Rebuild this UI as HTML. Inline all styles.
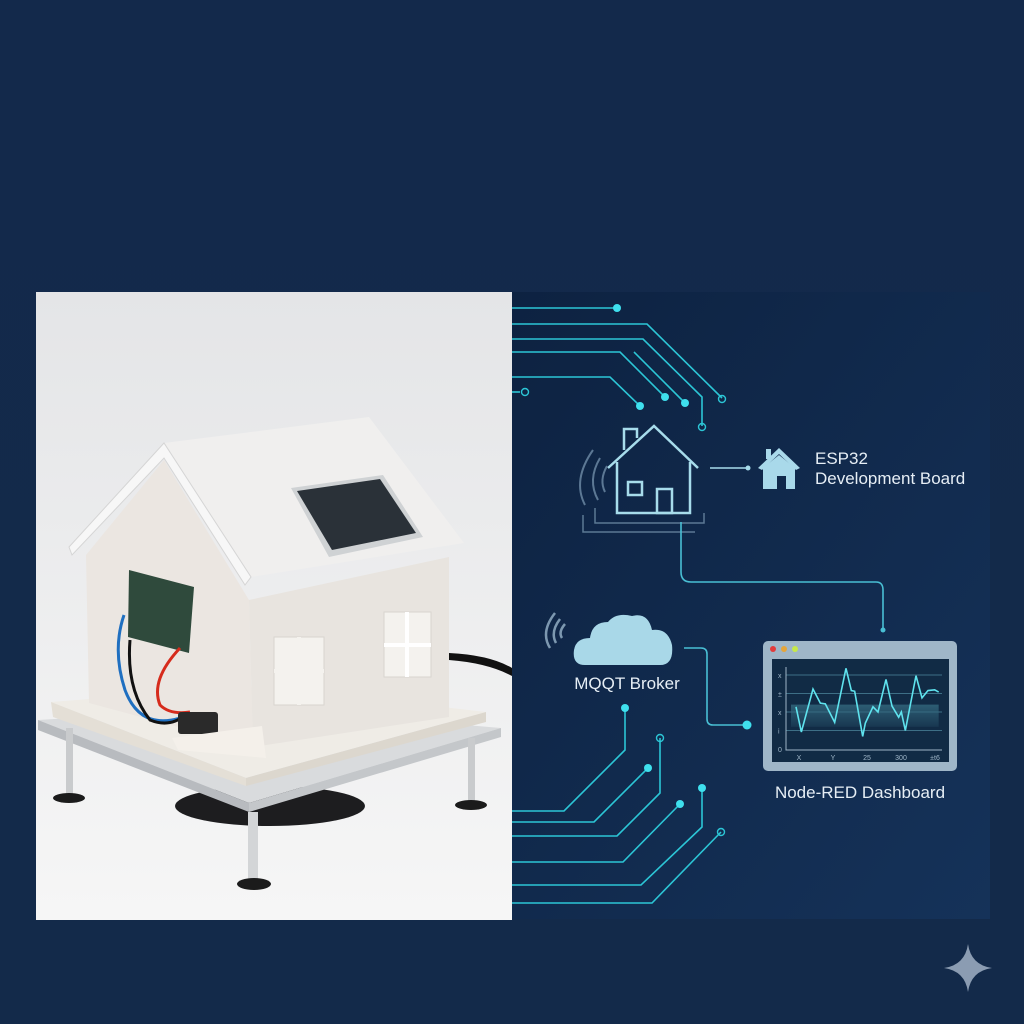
<!DOCTYPE html>
<html><head><meta charset="utf-8"><style>
html,body{margin:0;padding:0;background:#13294a;}
svg{display:block;}
text{font-family:"Liberation Sans","DejaVu Sans",sans-serif;}
</style></head><body>
<svg width="1024" height="1024" viewBox="0 0 1024 1024">
<defs>
<linearGradient id="bg" x1="0" y1="0" x2="0" y2="1"><stop offset="0" stop-color="#13294b"/><stop offset="1" stop-color="#132a4a"/></linearGradient>
<linearGradient id="rp" x1="0" y1="0" x2="1" y2="1"><stop offset="0" stop-color="#0d2241"/><stop offset="1" stop-color="#153259"/></linearGradient>
<linearGradient id="ph" x1="0" y1="0" x2="0" y2="1"><stop offset="0" stop-color="#e4e5e7"/><stop offset="1" stop-color="#f6f6f6"/></linearGradient>
<linearGradient id="area" x1="0" y1="0" x2="0" y2="1"><stop offset="0" stop-color="#3f7f93"/><stop offset="1" stop-color="#1d3f58"/></linearGradient>
</defs>
<rect width="1024" height="1024" fill="url(#bg)"/>
<rect x="512" y="292" width="478" height="627" fill="url(#rp)"/>

<g>
<rect x="36" y="292" width="476" height="628" fill="url(#ph)"/>
<ellipse cx="270" cy="806" rx="95" ry="20" fill="#1d1d1f"/>
<path d="M449 653 Q490 655 512 668 L512 676 Q488 663 449 660Z" fill="#111"/>
<polygon points="38,720 252,707 501,728 249,803" fill="#d9dbdd"/>
<polygon points="38,720 249,803 249,812 38,730" fill="#b8bbbf"/>
<polygon points="249,803 501,728 501,737 249,812" fill="#c4c7ca"/>
<rect x="66" y="728" width="7" height="68" fill="#c9cbcd"/><ellipse cx="69" cy="798" rx="16" ry="5" fill="#1b1b1b"/>
<rect x="468" y="738" width="7" height="66" fill="#c9cbcd"/><ellipse cx="471" cy="805" rx="16" ry="5" fill="#1b1b1b"/>
<rect x="248" y="812" width="10" height="70" fill="#d3d5d7"/><ellipse cx="254" cy="884" rx="17" ry="6" fill="#1b1b1b"/>
<polygon points="51,702 260,686 486,712 246,778" fill="#efece6"/>
<polygon points="51,702 246,778 246,786 53,717" fill="#e4dfd6"/>
<polygon points="246,778 486,712 486,722 246,786" fill="#dcd7ce"/>
<polygon points="164,443 369,417 464,543 251,577" fill="#f0efee"/>
<polygon points="86,555 164,460 249,600 253,747 89,703" fill="#ebe6e1"/>
<polygon points="249,600 449,557 449,717 253,747" fill="#e8e4df"/>
<polygon points="69,547 164,443 251,577 245,585 164,458 72,555" fill="#f7f7f7" stroke="#d5d5d5" stroke-width="1"/>
<polygon points="291,488 383,475 423,537 329,557" fill="#cfd2d4"/>
<polygon points="297,491 380,479 416,533 332,550" fill="#2a3138"/>
<rect x="274" y="637" width="50" height="68" fill="#f4f2ee" stroke="#d8d4cf"/>
<path d="M299 637V705M274 671H324" stroke="#f4f2ee" stroke-width="4"/>
<rect x="384" y="612" width="47" height="65" fill="#f4f2ee" stroke="#d8d4cf"/>
<path d="M407 612V677M384 645H431" stroke="#fff" stroke-width="4"/>
<polygon points="129,570 194,587 189,653 128,637" fill="#2f4a3c"/>
<path d="M124 615 Q112 650 125 690 Q140 730 180 718" stroke="#1f6fc0" stroke-width="3" fill="none"/>
<path d="M130 640 Q126 690 150 720 Q170 728 185 715" stroke="#111" stroke-width="3" fill="none"/>
<path d="M180 648 Q150 680 160 705 Q170 715 190 712" stroke="#d62b1c" stroke-width="3" fill="none"/>
<rect x="178" y="712" width="40" height="22" rx="3" fill="#2a2a2a"/>
<polygon points="172,738 262,726 266,758 178,750" fill="#f4f0ea"/>
</g>

<g stroke="#2cc6d6" stroke-width="1.6" fill="none">
<path d="M512 308H617"/><path d="M512 324H647L722 398"/><path d="M512 339H643L702 397V426"/>
<path d="M512 352H620L665 397"/><path d="M634 352L685 403"/><path d="M512 377H610L640 406"/><path d="M512 392H520"/>
</g>
<g fill="#3fe0ee">
<circle cx="617" cy="308" r="4"/><circle cx="665" cy="397" r="4"/><circle cx="685" cy="403" r="4"/><circle cx="640" cy="406" r="4"/>
</g>
<g fill="none" stroke="#2cc6d6" stroke-width="1.4"><circle cx="722" cy="399" r="3.5"/><circle cx="702" cy="427" r="3.5"/><circle cx="525" cy="392" r="3.5"/></g>

<g stroke="#a7dceb" stroke-width="2.5" fill="none">
<path d="M608 468L654 426L698 468"/><path d="M617 462V513H690V462"/><path d="M624 450V429H637V438"/>
<rect x="628" y="482" width="14" height="13"/><rect x="657" y="489" width="15" height="24"/>
<path d="M593 450Q572 480 585 505M600 458Q587 480 598 500M607 466Q599 480 605 492" stroke="#5c7894" stroke-width="2"/>
<path d="M595 508V523H704V513M583 515V532H695" stroke="#5c7894" stroke-width="1.5"/>
<path d="M710 468H748" stroke="#a7dceb" stroke-width="1.5"/>
</g>
<circle cx="748" cy="468" r="2.5" fill="#a7dceb"/>
<g fill="#a9d9ea">
<polygon points="758,468 779,448 800,468 796,470 779,454 762,470"/>
<polygon points="763,468 779,455 795,468 795,489 786,489 786,476 777,476 777,489 763,489"/>
<rect x="766" y="449" width="5" height="10"/>
</g>
<text x="815" y="464" font-size="17" fill="#e6eef5">ESP32</text>
<text x="815" y="484" font-size="17" fill="#e6eef5">Development Board</text>
<path d="M681 522V572Q681 582 691 582H876Q883 582 883 590V629" stroke="#49bfd4" stroke-width="1.6" fill="none"/>
<circle cx="883" cy="630" r="2.5" fill="#49bfd4"/>

<g>
<path d="M585 665Q572 665 574 650Q576 638 590 638Q592 622 608 622Q616 612 632 616Q648 612 652 630Q668 628 672 645Q674 665 660 665Z" fill="#a9d8e8"/>
<path d="M550 648Q540 632 555 613M556 643Q550 632 560 619M562 638Q558 632 565 624" stroke="#7d98b0" stroke-width="2.5" fill="none"/>
</g>
<text x="627" y="689" font-size="17" fill="#e6eef5" text-anchor="middle">MQQT Broker</text>
<path d="M684 648H701Q707 648 707 654V719Q707 725 713 725H747" stroke="#49bfd4" stroke-width="1.6" fill="none"/>
<circle cx="747" cy="725" r="4.5" fill="#3fe0ee"/>

<g stroke="#2cc6d6" stroke-width="1.6" fill="none">
<path d="M625 708V750L564 811H512"/><path d="M648 768L594 822H512"/><path d="M660 738V793L617 836H512"/>
<path d="M680 804L623 862H512"/><path d="M702 788V827L641 885H512"/><path d="M721 832L652 903H512"/>
</g>
<g fill="#3fe0ee"><circle cx="625" cy="708" r="4"/><circle cx="648" cy="768" r="4"/><circle cx="680" cy="804" r="4"/><circle cx="702" cy="788" r="4"/></g>
<g fill="none" stroke="#2cc6d6" stroke-width="1.4"><circle cx="660" cy="738" r="3.5"/><circle cx="721" cy="832" r="3.5"/></g>

<g>
<rect x="763" y="641" width="194" height="130" rx="5" fill="#9fb6c8"/>
<rect x="772" y="659" width="177" height="103" fill="#112b45"/>
<circle cx="773" cy="649" r="3" fill="#e23b3b"/><circle cx="784" cy="649" r="3" fill="#e5a53a"/><circle cx="795" cy="649" r="3" fill="#c6e84a"/>
<g id="chart"></g>
</g>
<text x="860" y="798" font-size="17" fill="#e6eef5" text-anchor="middle">Node-RED Dashboard</text>

<path d="M968 944Q971 965 992 968Q971 971 968 992Q965 971 944 968Q965 965 968 944Z" fill="#8b9cb2"/>
</svg>
<script>
const times=[852,868,903,925,940,968,1002,1018,1028,1052,1060,1083,1098,1122,1140,1160,1168,1180,1212,1230,1248,1268,1280];
const values=[57,23,81,62,61,36,109,79,78,17,35,57,50,94,58,43,50,25,99,69,79,80,77];
const yTicks=[0,25,50,75,100];
const yTickLabels=["0","i","x","\u00b1","x"];
const xTickLabels=["X","Y","25","300","\u00b1t6"];
const ns="http://www.w3.org/2000/svg";
const g=document.getElementById("chart");
function sx(t){return 512+t/3;}
function sy(v){return 749-v*0.74;}
function mk(tag,attrs){const e=document.createElementNS(ns,tag);for(const k in attrs)e.setAttribute(k,attrs[k]);g.appendChild(e);return e;}
yTicks.forEach((v,i)=>{
  if(i>0){const l=mk("line",{x1:786,x2:942,y1:sy(v),y2:sy(v),stroke:"#3d6f86","stroke-width":1});
  
  }
  const t=mk("text",{x:778,y:sy(v)+3,"font-size":7,fill:"#9fb6c8"});t.textContent=yTickLabels[i];
  
  
});
const ax=mk("path",{d:"M786 667V750H942",stroke:"#9fb6c8","stroke-width":1,fill:"none"});


xTickLabels.forEach((s,i)=>{
  const t=mk("text",{x:799+i*34,y:760,"font-size":7,fill:"#9fb6c8","text-anchor":"middle"});t.textContent=s;
  
  
});
const band=mk("rect",{x:sx(times[0])-5,y:sy(60),width:sx(times[times.length-1])-sx(times[0])+5,height:sy(30)-sy(60),fill:"url(#area)",opacity:0.6});


const pts=times.map((t,i)=>sx(t)+","+sy(values[i])).join(" ");
const line=mk("polyline",{points:pts,fill:"none",stroke:"#5fe3ee","stroke-width":1.6});


</script>
</body></html>
